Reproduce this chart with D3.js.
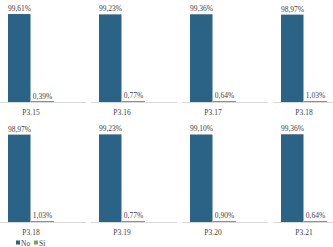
<!DOCTYPE html>
<html>
<head>
<meta charset="utf-8">
<script src="https://cdn.jsdelivr.net/npm/d3@7"></script>
<style>
  body { margin: 0; background: #fff; }
  svg text { font-family: "Liberation Serif", "Times New Roman", serif; fill: #404040; }
</style>
</head>
<body>
<div id="chart"></div>
<script>
"use strict";

// panel labels, in reading order (two rows of four)
var categories = ["P3.15", "P3.16", "P3.17", "P3.18", "P3.18", "P3.19", "P3.20", "P3.21"];
var noValues = [99.61, 99.23, 99.36, 98.97, 98.97, 99.23, 99.10, 99.36];
var siValues = [0.39, 0.77, 0.64, 1.03, 1.03, 0.77, 0.90, 0.64];
var seriesNames = ["No", "Si"];

function init() {
    draw();
}
window.onload = init;

function draw() {
    var width = 333, height = 247;
    var panelW = 91, rowH = 120, baseline = 102;

    var svg = d3.select("#chart")
        .append("svg")
        .attr("width", width)
        .attr("height", height);

    var color = d3.scaleOrdinal()
        .domain(seriesNames)
        .range(["#2b6387", "#70ad47"]);

    // bars inside each panel
    var x = d3.scaleBand()
        .domain(seriesNames)
        .range([8, 54])
        .padding(0);

    var y = d3.scaleLinear()
        .domain([0, 100])
        .range([baseline, 13.7]);

    var fmt = function(v) { return d3.format(".2f")(v).replace(".", ",") + "%"; };

    var data = categories.map(function(c, i) {
        return { cat: c, i: i, values: [
            { key: "No", value: noValues[i] },
            { key: "Si", value: siValues[i] }
        ]};
    });

    var panels = svg.selectAll("g.panel")
        .data(data)
        .join("g")
        .attr("class", "panel")
        .attr("transform", d => `translate(${(d.i % 4) * panelW}, ${Math.floor(d.i / 4) * rowH})`);

    // baseline
    panels.append("line")
        .attr("x1", 0)
        .attr("x2", 86)
        .attr("y1", baseline + 0.5)
        .attr("y2", baseline + 0.5)
        .attr("stroke", "#d9d9d9")
        .attr("stroke-width", 1);

    panels.selectAll("rect")
        .data(d => d.values)
        .join("rect")
        .attr("x", d => x(d.key))
        .attr("y", d => Math.min(y(d.value), baseline - 1))
        .attr("width", d => d.key == "No" ? x.bandwidth() - 0.5 : x.bandwidth())
        .attr("height", d => Math.max(baseline - y(d.value), 1))
        .attr("fill", d => color(d.key));

    panels.selectAll("text.val")
        .data(d => d.values)
        .join("text")
        .attr("class", "val")
        .attr("x", d => x(d.key) + x.bandwidth() / 2)
        .attr("y", d => y(d.value) - 3)
        .attr("text-anchor", "middle")
        .attr("font-size", "7.5px")
        .text(d => fmt(d.value));

    panels.append("text")
        .attr("x", (x.range()[0] + x.range()[1]) / 2)
        .attr("y", baseline + 13)
        .attr("text-anchor", "middle")
        .attr("font-size", "7.5px")
        .text(d => d.cat);

    // legend
    var legend = svg.append("g")
        .attr("transform", "translate(16, 243)");
    var items = legend.selectAll("g")
        .data(seriesNames)
        .join("g")
        .attr("transform", (d, i) => `translate(${i * 18}, 0)`);
    items.append("rect")
        .attr("x", 0)
        .attr("y", -2.5)
        .attr("width", 4)
        .attr("height", 4)
        .attr("fill", d => color(d));
    items.append("text")
        .attr("x", 5)
        .attr("y", 2.5)
        .attr("font-size", "7.5px")
        .text(d => d);
}
</script>
</body>
</html>
